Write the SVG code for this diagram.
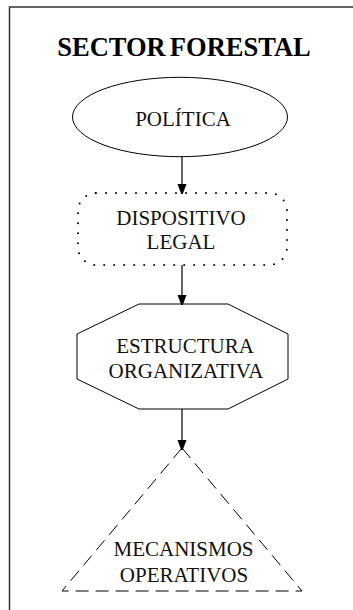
<svg xmlns="http://www.w3.org/2000/svg" width="353" height="610" viewBox="0 0 353 610">
<defs>
<marker id="ah" markerWidth="10" markerHeight="12" refX="9" refY="4.5" orient="auto" markerUnits="userSpaceOnUse">
<path d="M0,0 L12,4.5 L0,9 Z" fill="#000"/>
</marker>
<style>
.lbl{font-family:"Liberation Serif","Times New Roman",serif;font-size:21px;fill:#111;text-anchor:middle}
.shape{fill:none;stroke:#000;stroke-width:1}
.conn{stroke:#000;stroke-width:1.2;fill:none;marker-end:url(#ah)}
</style>
</defs>
<rect width="353" height="610" fill="#fff"/>
<g id="frame">
<path d="M9.5,610 L9.5,7 L353,7" fill="none" stroke="#333" stroke-width="1.5"/>
</g>
<g id="title">
<text x="184" y="56" font-family="'Liberation Serif','Times New Roman',serif" font-size="26.5" font-weight="bold" text-anchor="middle" word-spacing="-2.5" fill="#000">SECTOR FORESTAL</text>
</g>
<g id="connectors">
<line class="conn" x1="182" y1="157" x2="182" y2="193"/>
<line class="conn" x1="182" y1="265" x2="182" y2="304"/>
<line class="conn" x1="182" y1="409" x2="182" y2="449"/>
</g>
<g id="politica">
<ellipse class="shape" cx="180" cy="117" rx="107.5" ry="39.7"/>
<text class="lbl" x="183" y="126">POLÍTICA</text>
</g>
<g id="dispositivo">
<rect x="78" y="193" width="209" height="72" rx="18" ry="18" fill="none" stroke="#000" stroke-width="2" stroke-dasharray="0 10" stroke-linecap="round"/>
<text class="lbl" x="181" y="225">DISPOSITIVO</text>
<text class="lbl" x="181" y="249">LEGAL</text>
</g>
<g id="estructura">
<polygon class="shape" points="139,304 228,304 288,334 288,379 228,409 139,409 77,379 77,334"/>
<text class="lbl" x="185" y="353">ESTRUCTURA</text>
<text class="lbl" x="186" y="378">ORGANIZATIVA</text>
</g>
<g id="mecanismos">
<polygon class="shape" points="182,448 302,591 62,591" stroke-dasharray="13 7"/>
<text class="lbl" x="183.5" y="556">MECANISMOS</text>
<text class="lbl" x="184" y="582">OPERATIVOS</text>
</g>
</svg>
